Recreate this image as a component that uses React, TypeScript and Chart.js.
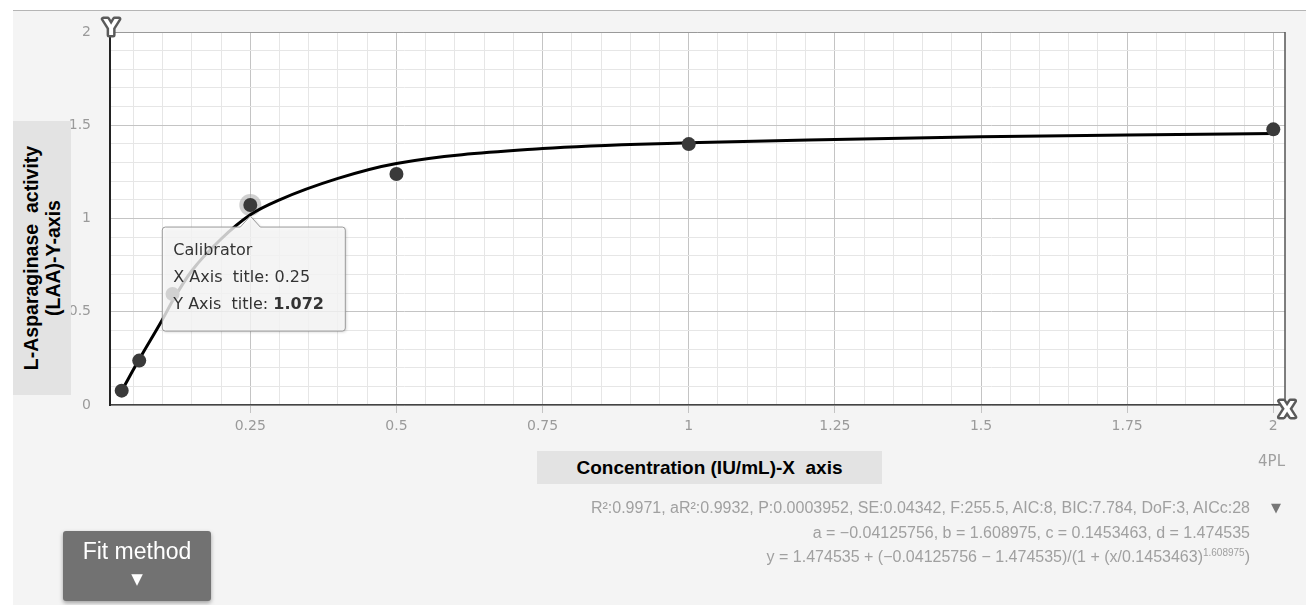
import React, { useEffect, useRef } from 'react';
import { Chart, registerables } from 'chart.js';

Chart.register(...registerables);

// Measured calibrator points (concentration, activity)
const pointX = [0.03, 0.06, 0.117, 0.25, 0.5, 1, 2];
const pointY = [0.077, 0.238, 0.595, 1.072, 1.239, 1.399, 1.478];

// Fitted 4PL curve
const curveX = [0.03, 0.06, 0.1, 0.12, 0.15, 0.2, 0.25, 0.3, 0.4, 0.5, 0.75, 1, 1.25, 1.5, 1.75, 2];
const curveY = [0.077, 0.245, 0.46, 0.575, 0.72, 0.89, 1.02, 1.1, 1.215, 1.295, 1.375, 1.406, 1.424, 1.438, 1.448, 1.456];

// Axis ranges and grid steps
const xRange = [0.01, 2.02];
const yRange = [0, 2];
const xMinorStep = 0.05;
const xMajorStep = 0.25;
const yMinorStep = 0.1;
const yMajorStep = 0.5;

const highlightIndex = 3;
const tooltipTitle = 'Calibrator';
const xLabelText = 'X Axis  title: ';
const yLabelText = 'Y Axis  title: ';

const statsLines = [
  'R²:0.9971, aR²:0.9932, P:0.0003952, SE:0.04342, F:255.5, AIC:8, BIC:7.784, DoF:3, AICc:28',
  'a = −0.04125756, b = 1.608975, c = 0.1453463, d = 1.474535',
];
const formulaMain = 'y = 1.474535 + (−0.04125756 − 1.474535)/(1 + (x/0.1453463)';
const formulaExp = '1.608975';

function gridValues(min: number, max: number, step: number): number[] {
  const out: number[] = [];
  const start = Math.ceil(min / step - 1e-9);
  const end = Math.floor(max / step + 1e-9);
  for (let i = start; i <= end; i++) out.push(Math.round(i * step * 1000) / 1000);
  return out;
}
function isMajor(v: number, step: number) {
  const r = v / step;
  return Math.abs(r - Math.round(r)) < 1e-6;
}
function fmt(v: number) {
  return String(Number(v.toFixed(3)));
}

const MAJOR = '#c4c4c4';
const MINOR = '#e6e6e6';

const overlayPlugin = {
  id: 'overlayPlugin',
  beforeDraw(chart: any) {
    const { ctx, chartArea: a } = chart;
    ctx.save();
    ctx.fillStyle = '#ffffff';
    ctx.fillRect(a.left, a.top, a.right - a.left, a.bottom - a.top);
    ctx.restore();
  },
  beforeDatasetsDraw(chart: any) {
    const { ctx } = chart;
    const px = chart.scales.x.getPixelForValue(pointX[highlightIndex]);
    const py = chart.scales.y.getPixelForValue(pointY[highlightIndex]);
    ctx.save();
    ctx.beginPath();
    ctx.arc(px, py, 11, 0, Math.PI * 2);
    ctx.fillStyle = 'rgba(170,170,170,0.55)';
    ctx.fill();
    ctx.restore();
  },
  afterDraw(chart: any) {
    const { ctx, chartArea: a } = chart;
    ctx.save();
    // top and right frame
    ctx.strokeStyle = '#9a9a9a';
    ctx.lineWidth = 1;
    ctx.beginPath();
    ctx.moveTo(a.left, a.top + 0.5);
    ctx.lineTo(a.right, a.top + 0.5);
    ctx.stroke();
    ctx.strokeStyle = '#555';
    ctx.lineWidth = 1.5;
    ctx.beginPath();
    ctx.moveTo(a.right, a.top);
    ctx.lineTo(a.right, a.bottom);
    ctx.stroke();

    // axis icons
    const icon = (t: string, x: number, y: number) => {
      ctx.font = 'bold 21px "DejaVu Sans"';
      ctx.textAlign = 'center';
      ctx.textBaseline = 'middle';
      ctx.lineJoin = 'round';
      ctx.strokeStyle = '#5a5a5a';
      ctx.lineWidth = 5;
      ctx.strokeText(t, x, y);
      ctx.fillStyle = '#ffffff';
      ctx.fillText(t, x, y);
    };
    icon('Y', a.left + 1, a.top - 2);
    icon('X', a.right + 2, a.bottom + 7);

    // tooltip
    const px = chart.scales.x.getPixelForValue(pointX[highlightIndex]);
    const py = chart.scales.y.getPixelForValue(pointY[highlightIndex]);
    const L = px - 88, R = px + 95, T = py + 22, B = py + 126, r = 3;
    ctx.beginPath();
    ctx.moveTo(L + r, T);
    ctx.lineTo(px - 10, T);
    ctx.lineTo(px, py + 11);
    ctx.lineTo(px + 10, T);
    ctx.lineTo(R - r, T);
    ctx.arcTo(R, T, R, T + r, r);
    ctx.lineTo(R, B - r);
    ctx.arcTo(R, B, R - r, B, r);
    ctx.lineTo(L + r, B);
    ctx.arcTo(L, B, L, B - r, r);
    ctx.lineTo(L, T + r);
    ctx.arcTo(L, T, L + r, T, r);
    ctx.closePath();
    ctx.shadowColor = 'rgba(0,0,0,0.25)';
    ctx.shadowBlur = 3;
    ctx.shadowOffsetX = 1;
    ctx.shadowOffsetY = 1;
    ctx.fillStyle = 'rgba(255,255,255,0.78)';
    ctx.fill();
    ctx.shadowColor = 'transparent';
    ctx.strokeStyle = '#9a9a9a';
    ctx.lineWidth = 1;
    ctx.stroke();

    ctx.fillStyle = '#333';
    ctx.textAlign = 'left';
    ctx.textBaseline = 'middle';
    const tx = px - 77;
    ctx.font = '16px "DejaVu Sans"';
    ctx.fillText(tooltipTitle, tx, py + 46);
    ctx.fillText(xLabelText + fmt(pointX[highlightIndex]), tx, py + 73);
    ctx.fillText(yLabelText, tx, py + 100);
    const w = ctx.measureText(yLabelText).width;
    ctx.font = 'bold 16px "DejaVu Sans"';
    ctx.fillText(fmt(pointY[highlightIndex]), tx + w, py + 100);
    ctx.restore();
  },
};

export default function App() {
  const ref = useRef<HTMLCanvasElement>(null);

  useEffect(() => {
    if (!ref.current) return;
    const xGrid = gridValues(xRange[0], xRange[1], xMinorStep);
    const yGrid = gridValues(yRange[0], yRange[1], yMinorStep);
    const chart = new Chart(ref.current, {
      type: 'scatter',
      data: {
        datasets: [
          {
            type: 'line',
            data: curveX.map((x, i) => ({ x, y: curveY[i] })),
            borderColor: '#000000',
            borderWidth: 3,
            pointRadius: 0,
            cubicInterpolationMode: 'monotone',
            fill: false,
            order: 2,
          } as any,
          {
            type: 'scatter',
            data: pointX.map((x, i) => ({ x, y: pointY[i] })),
            backgroundColor: '#3a3a3a',
            borderWidth: 0,
            pointRadius: 7,
            pointHoverRadius: 7,
            order: 1,
          } as any,
        ],
      },
      options: {
        responsive: false,
        animation: false,
        events: [],
        layout: { padding: { left: 0, top: 32, right: 21, bottom: 0 } },
        plugins: { legend: { display: false }, tooltip: { enabled: false } },
        scales: {
          x: {
            type: 'linear',
            min: xRange[0],
            max: xRange[1],
            afterBuildTicks: (s: any) => {
              s.ticks = xGrid.map((v) => ({ value: v }));
            },
            afterFit: (s: any) => {
              s.height = 200;
            },
            ticks: {
              autoSkip: false,
              maxRotation: 0,
              padding: 5,
              color: '#9a9a9a',
              font: { family: '"DejaVu Sans"', size: 14 },
              callback: (v: any) => (isMajor(Number(v), xMajorStep) ? fmt(Number(v)) : ''),
            },
            grid: {
              color: (c: any) => (c.tick && isMajor(c.tick.value, xMajorStep) ? MAJOR : MINOR),
              tickColor: (c: any) => (c.tick && isMajor(c.tick.value, xMajorStep) ? MAJOR : 'rgba(0,0,0,0)'),
              tickLength: 8,
              lineWidth: 1,
            },
            border: { color: '#444', width: 1.5 },
          },
          y: {
            type: 'linear',
            min: yRange[0],
            max: yRange[1],
            afterBuildTicks: (s: any) => {
              s.ticks = yGrid.map((v) => ({ value: v }));
            },
            afterFit: (s: any) => {
              s.width = 110;
            },
            ticks: {
              autoSkip: false,
              padding: 19,
              color: '#9a9a9a',
              font: { family: '"DejaVu Sans"', size: 14 },
              callback: (v: any) => (isMajor(Number(v), yMajorStep) ? fmt(Number(v)) : ''),
            },
            grid: {
              color: (c: any) => (c.tick && isMajor(c.tick.value, yMajorStep) ? MAJOR : MINOR),
              drawTicks: false,
              lineWidth: 1,
            },
            border: { color: '#222', width: 2 },
          },
        },
      },
      plugins: [overlayPlugin],
    } as any);
    return () => chart.destroy();
  }, []);

  const grayText: React.CSSProperties = {
    position: 'absolute',
    right: 56,
    color: '#a0a0a0',
    fontFamily: '"Liberation Sans", Arial, sans-serif',
    fontSize: 16,
    whiteSpace: 'pre',
    lineHeight: '18px',
  };

  return (
    <div style={{ position: 'fixed', left: 0, top: 0, width: 1306, height: 605, background: '#ffffff', overflow: 'hidden' }}>
      <div style={{ position: 'absolute', left: 13, top: 10, right: 0, bottom: 0, background: '#f4f4f4', borderTop: '1px solid #b5b5b5' }} />
      <canvas ref={ref} width={1306} height={605} style={{ position: 'absolute', left: 0, top: 0 }} />

      {/* Y axis title */}
      <div style={{ position: 'absolute', left: 13, top: 121, width: 58, height: 274, background: '#e3e3e3' }}>
        <div
          style={{
            position: 'absolute',
            left: 29 - 137,
            top: 137 - 29,
            width: 274,
            height: 58,
            transform: 'rotate(-90deg)',
            display: 'flex',
            flexDirection: 'column',
            justifyContent: 'center',
            alignItems: 'center',
            fontFamily: '"Liberation Sans", Arial, sans-serif',
            fontWeight: 'bold',
            fontSize: 19.5,
            lineHeight: '22px',
            color: '#000',
            whiteSpace: 'pre',
          }}
        >
          <div>{'L-Asparaginase  activity'}</div>
          <div>{'(LAA)-Y-axis'}</div>
        </div>
      </div>

      {/* X axis title */}
      <div
        style={{
          position: 'absolute',
          left: 537,
          top: 451,
          width: 345,
          height: 33,
          background: '#e3e3e3',
          display: 'flex',
          alignItems: 'center',
          justifyContent: 'center',
          fontFamily: '"Liberation Sans", Arial, sans-serif',
          fontWeight: 'bold',
          fontSize: 19,
          color: '#000',
          whiteSpace: 'pre',
        }}
      >
        {'Concentration (IU/mL)-X  axis'}
      </div>

      <div style={{ ...grayText, right: 21, top: 452, fontSize: 15, fontFamily: '"DejaVu Sans"' }}>4PL</div>

      <div style={{ ...grayText, top: 499 }}>{statsLines[0]}</div>
      <div style={{ ...grayText, top: 524 }}>{statsLines[1]}</div>
      <div style={{ ...grayText, top: 548 }}>
        {formulaMain}
        <sup style={{ fontSize: 10, verticalAlign: 'top', lineHeight: '10px' }}>{formulaExp}</sup>
        {')'}
      </div>
      <div style={{ position: 'absolute', left: 1271, top: 500, color: '#777', fontSize: 13, fontFamily: '"DejaVu Sans"' }}>▼</div>

      {/* Fit method button */}
      <div
        style={{
          position: 'absolute',
          left: 63,
          top: 531,
          width: 148,
          height: 70,
          background: '#727272',
          borderRadius: 3,
          boxShadow: '0 2px 4px rgba(0,0,0,0.35)',
          color: '#fff',
          fontFamily: '"Liberation Sans", Arial, sans-serif',
          textAlign: 'center',
        }}
      >
        <div style={{ fontSize: 23, marginTop: 7, lineHeight: '26px' }}>Fit method</div>
        <div style={{ fontSize: 15, marginTop: 6, lineHeight: '18px', fontFamily: '"DejaVu Sans"' }}>▼</div>
      </div>
    </div>
  );
}
